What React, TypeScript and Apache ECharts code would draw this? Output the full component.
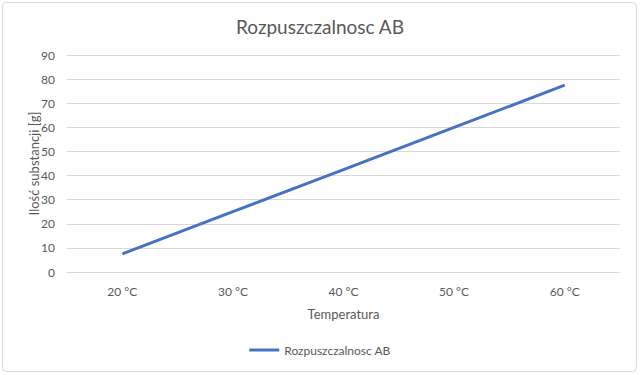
import React, { useEffect, useRef } from "react";
import * as echarts from "echarts";

const categories = ["20 °C", "30 °C", "40 °C", "50 °C", "60 °C"];
const values = [7.5, 25, 42.5, 60, 77.5];
const seriesName = "Rozpuszczalnosc AB";
const titleText = "Rozpuszczalnosc AB";
const xName = "Temperatura";
const yName = "Ilość substancji [g]";

const FONT = "Lato, 'Open Sans', sans-serif";
const TXT = "#595959";

export default function App() {
  const ref = useRef<HTMLDivElement>(null);
  useEffect(() => {
    if (!ref.current) return;
    const chart = echarts.init(ref.current, undefined, { renderer: "svg" });
    chart.setOption({
      animation: false,
      backgroundColor: "#ffffff",
      textStyle: { fontFamily: FONT },
      title: {
        text: titleText,
        left: "center",
        top: 12,
        textStyle: { fontFamily: FONT, fontSize: 19, fontWeight: "normal", color: TXT },
      },
      graphic: [
        {
          type: "rect",
          shape: { x: 2.5, y: 2.5, width: 634, height: 369, r: 4 },
          style: { fill: "none", stroke: "#d9d9d9", lineWidth: 1 },
          silent: true,
        },
      ],
      legend: {
        bottom: 14,
        left: "center",
        itemWidth: 30,
        itemHeight: 3,
        icon: "rect",
        itemGap: 4,
        textStyle: { fontFamily: FONT, fontSize: 12, color: TXT },
        data: [seriesName],
      },
      grid: { left: 67, right: 20, top: 55, bottom: 103 },
      xAxis: {
        type: "category",
        data: categories,
        boundaryGap: true,
        name: xName,
        nameLocation: "middle",
        nameGap: 35,
        nameMoveOverlap: false,
        nameTextStyle: { fontFamily: FONT, fontSize: 13, color: TXT },
        axisLine: { show: true, lineStyle: { color: "#d9d9d9" } },
        axisTick: { show: false },
        axisLabel: { fontFamily: FONT, fontSize: 12, color: TXT, margin: 13 },
      },
      yAxis: {
        type: "value",
        min: 0,
        max: 90,
        interval: 10,
        name: yName,
        nameLocation: "middle",
        nameGap: 27,
        nameMoveOverlap: false,
        nameRotate: 90,
        nameTextStyle: { fontFamily: FONT, fontSize: 13, color: TXT },
        axisLine: { show: false },
        axisTick: { show: false },
        axisLabel: { fontFamily: FONT, fontSize: 12, color: TXT, margin: 12 },
        splitLine: { lineStyle: { color: "#d9d9d9", width: 1 } },
      },
      series: [
        {
          name: seriesName,
          type: "line",
          data: values,
          showSymbol: false,
          symbol: "none",
          lineStyle: { color: "#4472c4", width: 3 },
          itemStyle: { color: "#4472c4" },
        },
      ],
    });
    return () => chart.dispose();
  }, []);
  return (
    <div
      ref={ref}
      style={{ position: "absolute", left: 0, top: 0, width: 640, height: 375 }}
    />
  );
}
